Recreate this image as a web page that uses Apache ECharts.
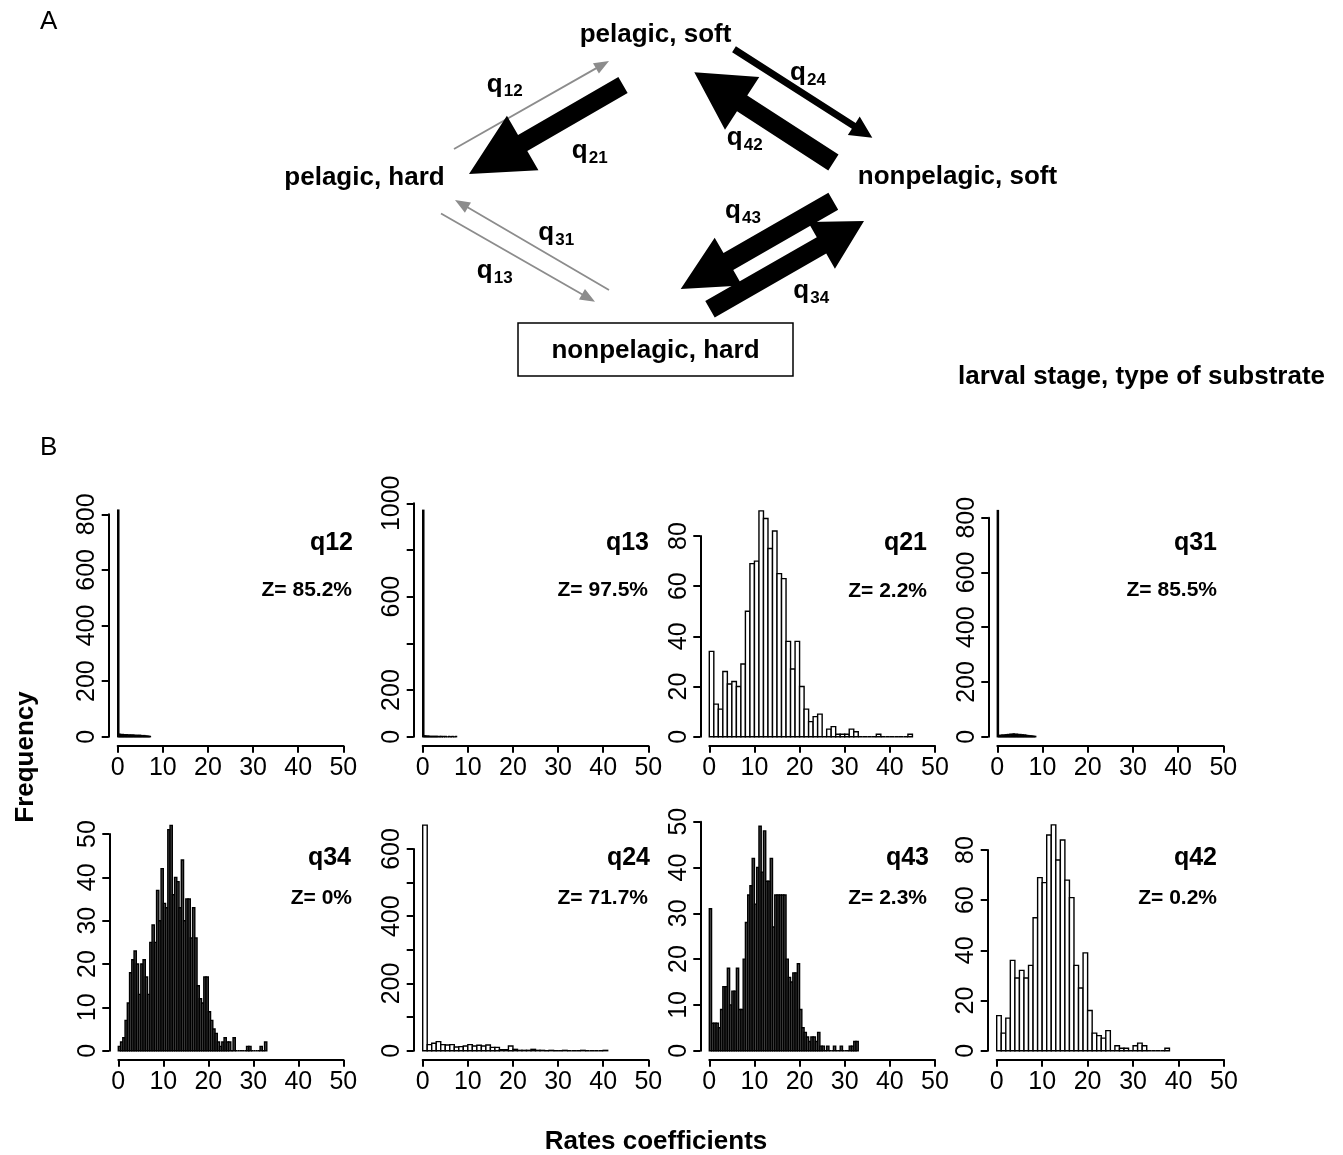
<!DOCTYPE html>
<html>
<head>
<meta charset="utf-8">
<title>Rates coefficients</title>
<script src="https://cdn.jsdelivr.net/npm/echarts@6/dist/echarts.min.js"></script>
<style>
  html, body { margin: 0; padding: 0; background: #fff; }
  #main { width: 1343px; height: 1155px; }
</style>
</head>
<body>
<div id="main"></div>
<script>
// panels, left to right, top row then bottom row
const panelNames = ['q12', 'q13', 'q21', 'q31', 'q34', 'q24', 'q43', 'q42'];
const zeroShares = ['85.2%', '97.5%', '2.2%', '85.5%', '0%', '71.7%', '2.3%', '0.2%'];
const binWidths = [0.25, 0.25, 1, 0.25, 0.5, 1, 0.5, 1];

// histogram counts, first bin starts at 0
const q12Counts = [815, 9, 8, 7, 8, 6, 7, 6, 7, 5, 6, 6, 5, 6, 5, 5, 4, 5, 4, 5, 4, 4, 3, 4, 3, 2, 2, 1, 1];
const q13Counts = [970, 4, 3, 2, 2, 2, 1, 1, 1, 1, 1, 1, 1, 1, 0, 1, 1, 0, 1, 0, 1, 0, 0, 1, 0, 0, 1, 0, 0, 1];
const q21Counts = [34, 13, 11, 26, 21, 22, 20, 29, 50, 69, 70, 90, 87, 75, 82, 65, 63, 38, 27, 38,
  20, 11, 6, 8, 9, 0, 3, 4, 1, 1, 1, 3, 2, 0, 0, 0, 0, 1, 0, 0, 0, 0, 0, 0, 1];
const q31Counts = [826, 5, 4, 5, 6, 5, 6, 7, 6, 8, 7, 9, 8, 9, 10, 9, 8, 9, 8, 7, 8, 6, 7, 5, 6, 5, 4, 4, 3, 3, 2, 2, 1, 1];
const q34Counts = [1, 2, 3, 7, 11, 18, 21, 23, 20, 13, 20, 21, 17, 13, 25, 29, 25, 37, 30, 42,
  34, 33, 51, 52, 36, 40, 39, 33, 44, 30, 35, 35, 26, 33, 26, 15, 12, 11, 17, 17,
  9, 7, 5, 4, 2, 1, 2, 3, 2, 2, 0, 3, 0, 0, 0, 0, 0, 1, 1, 0, 0, 0, 0, 1, 0, 2];
const q24Counts = [671, 18, 22, 27, 18, 17, 18, 11, 12, 14, 18, 14, 16, 14, 17, 10, 10, 3, 3, 14,
  4, 1, 1, 1, 4, 1, 1, 0, 1, 0, 0, 1, 0, 0, 0, 1, 0, 0, 0, 0, 1];
const q43Counts = [31, 6, 6, 6, 5, 9, 14, 14, 18, 10, 13, 13, 18, 9, 9, 20, 28, 34, 36, 42,
  32, 40, 49, 39, 48, 37, 37, 42, 27, 34, 34, 34, 34, 34, 20, 16, 15, 17, 17, 19,
  9, 5, 4, 3, 2, 3, 3, 2, 4, 1, 1, 0, 1, 0, 0, 1, 0, 0, 1, 0, 0, 0, 1, 1, 2, 2];
const q42Counts = [14, 7, 13, 36, 29, 32, 29, 34, 53, 69, 67, 86, 90, 76, 84, 68, 61, 34, 25, 39,
  16, 7, 6, 5, 8, 0, 2, 1, 1, 0, 2, 3, 2, 0, 0, 0, 0, 1];
const allCounts = [q12Counts, q13Counts, q21Counts, q31Counts, q34Counts, q24Counts, q43Counts, q42Counts];

// axis ticks
const xTickStep = 10;
const xTickMax = 50;
const yTickMax = [800, 1000, 80, 800, 50, 600, 50, 80];
const yTickStep = [200, 200, 20, 200, 10, 100, 10, 20];
const q13YLabels = [0, 200, 600, 1000];
const q24YLabels = [0, 200, 400, 600];

// plot boxes: left, top, width, height (x 0..50, y 0..last tick)
const boxes = [
  [117.7, 514.3, 225.6, 222.4],
  [422.7, 503.3, 225.6, 233.4],
  [709.3, 536.0, 225.7, 200.7],
  [997.3, 517.7, 226.0, 219.0],
  [118.3, 834.0, 225.0, 216.7],
  [422.7, 849.0, 225.6, 201.7],
  [709.3, 821.7, 225.7, 229.0],
  [996.7, 850.0, 227.3, 200.7]
];
// right edge / middle of the panel title and the Z text
const labelPos = [
  [353, 543, 352, 590], [649, 543, 648, 590], [927, 543, 927, 591], [1217, 543, 1217, 590],
  [351, 858, 352, 898], [650, 858, 648, 898], [929, 858, 927, 898], [1217, 858, 1217, 898]
];

const FONT = '"Liberation Sans", Arial, Helvetica, sans-serif';
const GRAY = '#8c8c8c';

function binRows(counts, w) {
  return counts.map((c, i) => [i * w, (i + 1) * w, c]);
}

// narrow bins print almost solid in the original
function makeRenderer(fill) {
  return function (params, api) {
    const top = api.coord([api.value(0), api.value(2)]);
    const base = api.coord([api.value(1), 0]);
    return {
      type: 'rect',
      shape: { x: top[0], y: top[1], width: base[0] - top[0], height: base[1] - top[1] },
      style: { fill: fill, stroke: '#000', lineWidth: 1.4 }
    };
  };
}

const grids = [], xAxes = [], yAxes = [], series = [];
panelNames.forEach((name, i) => {
  const b = boxes[i];
  grids.push({ left: b[0], top: b[1], width: b[2], height: b[3], outerBoundsMode: 'none', containLabel: false });
  xAxes.push({
    gridIndex: i, type: 'value', min: 0, max: xTickMax, interval: xTickStep, offset: 9,
    axisLine: { show: true, onZero: false, lineStyle: { color: '#000', width: 2 } },
    axisTick: { show: true, length: 7, lineStyle: { color: '#000', width: 2 } },
    axisLabel: { color: '#000', fontSize: 25, fontFamily: FONT, margin: 10, showMinLabel: true, showMaxLabel: true },
    splitLine: { show: false }
  });
  yAxes.push({
    gridIndex: i, type: 'value', min: 0, max: yTickMax[i], interval: yTickStep[i], offset: 9,
    axisLine: { show: true, onZero: false, lineStyle: { color: '#000', width: 2 } },
    axisTick: { show: true, length: 7, lineStyle: { color: '#000', width: 2 } },
    axisLabel: {
      color: '#000', fontSize: 25, fontFamily: FONT, rotate: 90, margin: 9,
      showMinLabel: true, showMaxLabel: true,
      formatter: v => {
        if (name === 'q13') return q13YLabels.includes(v) ? String(v) : '';
        if (name === 'q24') return q24YLabels.includes(v) ? String(v) : '';
        return String(v);
      }
    },
    splitLine: { show: false }
  });
  series.push({
    name: name, type: 'custom', xAxisIndex: i, yAxisIndex: i, clip: false, silent: true,
    renderItem: makeRenderer(binWidths[i] === 0.5 ? '#4a4a4a' : '#fff'),
    encode: { x: [0, 1], y: 2 },
    data: binRows(allCounts[i], binWidths[i])
  });
});

// ---- panel A: diagram ----
function arrowPoints(x1, y1, x2, y2, shaft, headLen, headW) {
  const dx = x2 - x1, dy = y2 - y1, len = Math.hypot(dx, dy);
  const ux = dx / len, uy = dy / len, nx = -uy, ny = ux;
  const bx = x2 - ux * headLen, by = y2 - uy * headLen;
  const s = shaft / 2, h = headW / 2;
  return [[x1 + nx * s, y1 + ny * s], [bx + nx * s, by + ny * s], [bx + nx * h, by + ny * h], [x2, y2],
    [bx - nx * h, by - ny * h], [bx - nx * s, by - ny * s], [x1 - nx * s, y1 - ny * s]];
}

const arrows = [
  { from: [454, 149], to: [609, 61], shaft: 1.8, head: 15, headW: 12, color: GRAY },      // q12
  { from: [609, 290], to: [455, 200], shaft: 1.8, head: 15, headW: 12, color: GRAY },     // q31
  { from: [441, 213.5], to: [595, 301.7], shaft: 1.8, head: 15, headW: 12, color: GRAY }, // q13
  { from: [623, 85], to: [469, 174], shaft: 18.5, head: 62, headW: 63, color: '#000' },   // q21
  { from: [833.4, 162.5], to: [694.3, 72.3], shaft: 18.8, head: 57, headW: 63, color: '#000' }, // q42
  { from: [734, 49.3], to: [872.3, 137.7], shaft: 7, head: 22, headW: 22, color: '#000' }, // q24
  { from: [833.3, 201.3], to: [680.7, 289], shaft: 19.6, head: 55, headW: 55, color: '#000' }, // q43
  { from: [710, 309.3], to: [864, 221], shaft: 19, head: 49, headW: 54, color: '#000' }    // q34
];

// rate labels: left x and descender bottom of the "q"
const rateLabels = [
  ['12', 486.7, 96.7], ['21', 571.7, 163.3], ['31', 538.3, 245], ['13', 476.7, 283.3],
  ['24', 790, 85], ['42', 726.7, 150], ['43', 725, 223.3], ['34', 793.3, 303.3]
];

function text(str, x, y, opts) {
  const o = opts || {};
  return {
    type: 'text', x: x, y: y, rotation: o.rotation || 0, silent: true,
    style: {
      text: str, fill: '#000', fontFamily: FONT, fontSize: o.size || 26,
      fontWeight: o.weight || 'bold',
      align: o.align || 'center', textAlign: o.align || 'center',
      verticalAlign: o.valign || 'middle', textVerticalAlign: o.valign || 'middle'
    }
  };
}

const graphics = [];
arrows.forEach(a => {
  graphics.push({
    type: 'polygon', silent: true,
    shape: { points: arrowPoints(a.from[0], a.from[1], a.to[0], a.to[1], a.shaft, a.head, a.headW) },
    style: { fill: a.color }
  });
});
rateLabels.forEach(r => {
  graphics.push(text('q', r[1], r[2] + 1, { size: 26, align: 'left', valign: 'bottom' }));
  graphics.push(text(r[0], r[1] + 17, r[2] + 3.6, { size: 17, align: 'left', valign: 'bottom' }));
});
graphics.push({
  type: 'rect', silent: true, shape: { x: 518, y: 323, width: 275, height: 53 },
  style: { fill: 'none', stroke: '#000', lineWidth: 1.5 }
});
graphics.push(text('pelagic, soft', 655.5, 35));
graphics.push(text('pelagic, hard', 364.5, 178));
graphics.push(text('nonpelagic, soft', 957.5, 177));
graphics.push(text('nonpelagic, hard', 655.5, 351));
graphics.push(text('larval stage, type of substrate', 1141.5, 377));
graphics.push(text('A', 40, 22, { weight: 'normal', size: 26, align: 'left' }));
graphics.push(text('B', 40, 448, { weight: 'normal', size: 26, align: 'left' }));

// ---- panel B: titles ----
panelNames.forEach((name, i) => {
  const p = labelPos[i];
  graphics.push(text(name, p[0], p[1], { size: 25, align: 'right' }));
  graphics.push(text('Z= ' + zeroShares[i], p[2], p[3], { size: 21, align: 'right' }));
});
graphics.push(text('Frequency', 26, 757, { rotation: Math.PI / 2, size: 26 }));
graphics.push(text('Rates coefficients', 656, 1142, { size: 26 }));

const chart = echarts.init(document.getElementById('main'), null, { renderer: 'canvas' });
chart.setOption({
  animation: false,
  backgroundColor: '#fff',
  grid: grids,
  xAxis: xAxes,
  yAxis: yAxes,
  series: series,
  graphic: { elements: graphics }
});
</script>
</body>
</html>
